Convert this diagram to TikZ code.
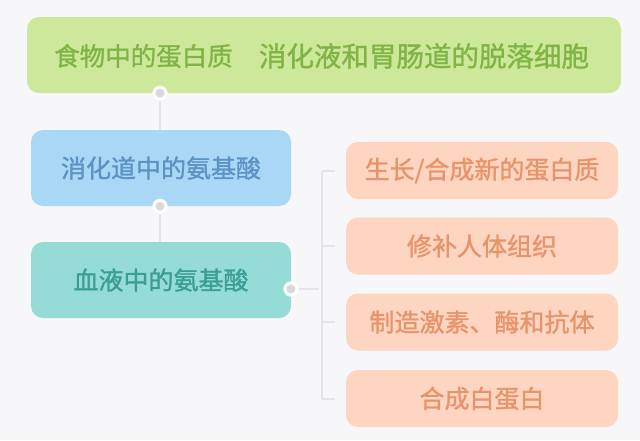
\documentclass[tikz,border=0pt]{standalone}
\usepackage{fontspec}
\setmainfont{Noto Sans CJK SC}
\newfontfamily\cjk[FakeBold=1.2]{Noto Sans CJK SC}
\definecolor{bg}{HTML}{F7F6F9}
\definecolor{gfill}{HTML}{CDE89B}
\definecolor{gtext}{HTML}{80B545}
\definecolor{bfill}{HTML}{A9D8F7}
\definecolor{btext}{HTML}{5B93C4}
\definecolor{tfill}{HTML}{95DCD6}
\definecolor{ttext}{HTML}{3A9E95}
\definecolor{ofill}{HTML}{FDD5C0}
\definecolor{otext}{HTML}{E8946A}
\definecolor{lnk}{HTML}{E4E3E8}
\definecolor{dotc}{HTML}{D8D8DD}
\tikzset{
  box/.style={rounded corners=12pt, inner sep=0pt, font=\cjk\fontsize{25}{30}\selectfont},
  gbox/.style={box, fill=gfill},
  bbox/.style={box, fill=bfill, text=btext, minimum width=260pt, minimum height=76pt},
  tbox/.style={box, fill=tfill, text=ttext, minimum width=260pt, minimum height=76pt},
  obox/.style={box, fill=ofill, text=otext, minimum width=272pt, minimum height=57pt},
  gtxt/.style={text=gtext, inner sep=0pt},
  link/.style={draw=lnk, line width=2pt},
  knob/.style={circle, fill=white, minimum size=15pt, inner sep=0pt, path picture={\fill[dotc] (path picture bounding box.center) circle (4.5pt);}},
}
\begin{document}
\begin{tikzpicture}[x=1pt,y=-1pt]
\fill[bg] (0,0) rectangle (640,440);
\useasboundingbox (0,0) rectangle (640,440);
% boxes
\node[gbox, minimum width=594pt, minimum height=76pt] (food) at (324,55) {};
\node[gtxt, font=\cjk\fontsize{25.5}{30}\selectfont] (t1) at (143.5,56) {食物中的蛋白质};
\node[gtxt, font=\cjk\fontsize{27.5}{30}\selectfont] (t2) at (424,56) {消化液和胃肠道的脱落细胞};
\node[bbox] (gut) at (161,168) {消化道中的氨基酸};
\node[tbox] (blood) at (161,280) {血液中的氨基酸};
\node[obox] (o1) at (482,170.5) {生长/合成新的蛋白质};
\node[obox] (o2) at (482,246) {修补人体组织};
\node[obox] (o3) at (482,322) {制造激素、酶和抗体};
\node[obox] (o4) at (482,398.5) {合成白蛋白};
% bracket
\coordinate (bt) at (322,170.5);
\coordinate (bb) at (322,398.5);
\coordinate (bj) at (319,289);
\draw[link] (bt) -- (bb);
\foreach \o in {o1,o2,o3,o4}{
  \draw[link] (\o.west -| bt) -- ++(13,0);
}
% knobs and links
\node[knob] (k1) at (food.south -| 160,0) {};
\node[knob] (k2) at (gut.south -| 160,0) {};
\node[knob] (k3) at (291,289) {};
\draw[link] (k1.south) -- (k1.south |- gut.north);
\draw[link] (k2.south) -- (k2.south |- blood.north);
\draw[link] (k3.east) -- (bj);
\node[knob] at (k1) {};
\node[knob] at (k2) {};
\node[knob] at (k3) {};
\end{tikzpicture}
\end{document}
